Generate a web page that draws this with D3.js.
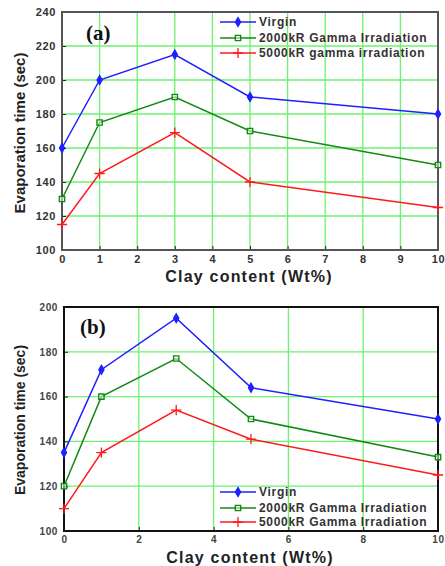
<!DOCTYPE html>
<html>
<head>
<meta charset="utf-8">
<script src="https://cdn.jsdelivr.net/npm/d3@7"></script>
<style>
  body { margin: 0; background: #fff; }
  svg { display: block; font-family: "Liberation Sans", Arial, sans-serif; }
</style>
</head>
<body>
<div id="chart"></div>
<script>
// data
var clay = [0, 1, 3, 5, 10];
var seriesNamesA = ["Virgin", "2000kR Gamma Irradiation", "5000kR gamma irradiation"];
var seriesNamesB = ["Virgin", "2000kR Gamma Irradiation", "5000kR Gamma Irradiation"];
var virginA = [160, 200, 215, 190, 180];
var gamma2000A = [130, 175, 190, 170, 150];
var gamma5000A = [115, 145, 169, 140, 125];
var virginB = [135, 172, 195, 164, 150];
var gamma2000B = [120, 160, 177, 150, 133];
var gamma5000B = [110, 135, 154, 141, 125];
var yTicksA = [100, 120, 140, 160, 180, 200, 220, 240];
var yTicksB = [100, 120, 140, 160, 180, 200];
var xTicksA = [0, 1, 2, 3, 4, 5, 6, 7, 8, 9, 10];
var xTicksB = [0, 2, 4, 6, 8, 10];

var w = 445, h = 566;
var colors = ["#1f1fff", "#128a12", "#ff1a1a"];
var symbols = [d3.symbolDiamond, d3.symbolSquare, d3.symbolPlus];
var symSize = [22, 28, 36];

var svg = d3.select("#chart").append("svg")
    .attr("width", w)
    .attr("height", h);

function marker(sel, i) {
    sel.attr("d", d3.symbol().type(symbols[i]).size(symSize[i]))
        .attr("fill", i == 0 ? colors[0] : (i == 1 ? "#fff" : "none"))
        .attr("fill-opacity", i == 1 ? 0.5 : 1)
        .attr("stroke", colors[i])
        .attr("stroke-width", i == 2 ? 1.3 : 1.4);
}

function drawPanel(p) {
    var x = d3.scaleLinear().domain([0, 10]).range([p.left, p.right]);
    var y = d3.scaleLinear().domain(p.yDomain).range([p.bottom, p.top]);
    var g = svg.append("g");

    // grid
    g.selectAll(".gx").data(p.xTicks).enter().append("line")
        .attr("x1", function(d) { return x(d); })
        .attr("x2", function(d) { return x(d); })
        .attr("y1", p.top).attr("y2", p.bottom)
        .attr("stroke", "#6cf26c").attr("stroke-width", 1.3);
    g.selectAll(".gy").data(p.yTicks).enter().append("line")
        .attr("y1", function(d) { return y(d); })
        .attr("y2", function(d) { return y(d); })
        .attr("x1", p.left).attr("x2", p.right)
        .attr("stroke", "#6cf26c").attr("stroke-width", 1.3);

    // axes with inner ticks
    var xAxis = d3.axisBottom(x).tickValues(p.xTicks).tickSize(-4).tickPadding(5).tickSizeOuter(0);
    var yAxis = d3.axisLeft(y).tickValues(p.yTicks).tickSize(-4).tickPadding(6).tickSizeOuter(0);
    var gx = g.append("g").attr("transform", "translate(0," + p.bottom + ")").call(xAxis);
    var gy = g.append("g").attr("transform", "translate(" + p.left + ",0)").call(yAxis);
    [gx, gy].forEach(function(a) {
        a.select(".domain").remove();
        a.selectAll("line").attr("stroke", "#222");
        a.selectAll("text")
            .attr("fill", p.tickColor)
            .style("font-size", p.tickFont + "px")
            .style("font-weight", "bold")
            .style("letter-spacing", "0.6px");
    });

    // frame
    g.append("rect")
        .attr("x", p.left).attr("y", p.top)
        .attr("width", p.right - p.left).attr("height", p.bottom - p.top)
        .attr("fill", "none").attr("stroke", p.frame).attr("stroke-width", 2);

    // series
    var line = d3.line()
        .x(function(d) { return x(d[0]); })
        .y(function(d) { return y(d[1]); });
    p.series.forEach(function(vals, i) {
        var pts = clay.map(function(c, j) { return [c, vals[j]]; });
        g.append("path").datum(pts)
            .attr("d", line)
            .attr("fill", "none")
            .attr("stroke", colors[i])
            .attr("stroke-width", 1.5);
        g.selectAll(".m" + i).data(pts).enter().append("path")
            .attr("transform", function(d) { return "translate(" + x(d[0]) + "," + y(d[1]) + ")"; })
            .call(marker, i);
    });

    // legend
    var leg = g.selectAll(".leg").data(p.names).enter().append("g")
        .attr("transform", function(d, i) { return "translate(220," + p.legendY[i] + ")"; });
    leg.append("line")
        .attr("x1", 0).attr("x2", 36)
        .attr("stroke", function(d, i) { return colors[i]; })
        .attr("stroke-width", 1.5);
    leg.each(function(d, i) {
        d3.select(this).append("path")
            .attr("transform", "translate(18,0)")
            .call(marker, i);
    });
    leg.append("text")
        .text(function(d) { return d; })
        .attr("x", 39).attr("y", 4)
        .attr("fill", "#333")
        .style("font-size", "12px")
        .style("font-weight", "bold")
        .style("letter-spacing", "0.7px");

    // panel label
    g.append("text")
        .text(p.label)
        .attr("x", p.labelX).attr("y", p.labelY)
        .style("font-family", "'Liberation Serif', 'Times New Roman', serif")
        .style("font-weight", "bold")
        .style("font-size", "21px")
        .attr("fill", "#111");

    // axis titles
    g.append("text")
        .text("Clay content (Wt%)")
        .attr("x", (p.left + p.right) / 2 - 1)
        .attr("y", p.bottom + 32)
        .attr("text-anchor", "middle")
        .style("font-size", "16px")
        .style("font-weight", "bold")
        .style("letter-spacing", "1.2px")
        .attr("fill", "#222");
    g.append("text")
        .text("Evaporation time (sec)")
        .attr("transform", "translate(25," + p.yTitleY + ") rotate(-90)")
        .attr("text-anchor", "middle")
        .style("font-size", p.yTitleFont + "px")
        .style("font-weight", "bold")
        .attr("fill", "#222");
}

drawPanel({
    left: 62, right: 438, top: 12, bottom: 250,
    yDomain: [100, 240], yTicks: yTicksA, xTicks: xTicksA,
    series: [virginA, gamma2000A, gamma5000A], names: seriesNamesA,
    legendY: [22, 38, 53], label: "(a)", labelX: 86, labelY: 40,
    tickFont: 11, tickColor: "#333", frame: "#555",
    yTitleY: 133, yTitleFont: 15
});

drawPanel({
    left: 64, right: 438, top: 307, bottom: 531,
    yDomain: [100, 200], yTicks: yTicksB, xTicks: xTicksB,
    series: [virginB, gamma2000B, gamma5000B], names: seriesNamesB,
    legendY: [492, 508, 522], label: "(b)", labelX: 80, labelY: 334,
    tickFont: 10, tickColor: "#444", frame: "#111",
    yTitleY: 420, yTitleFont: 14
});
</script>
</body>
</html>
